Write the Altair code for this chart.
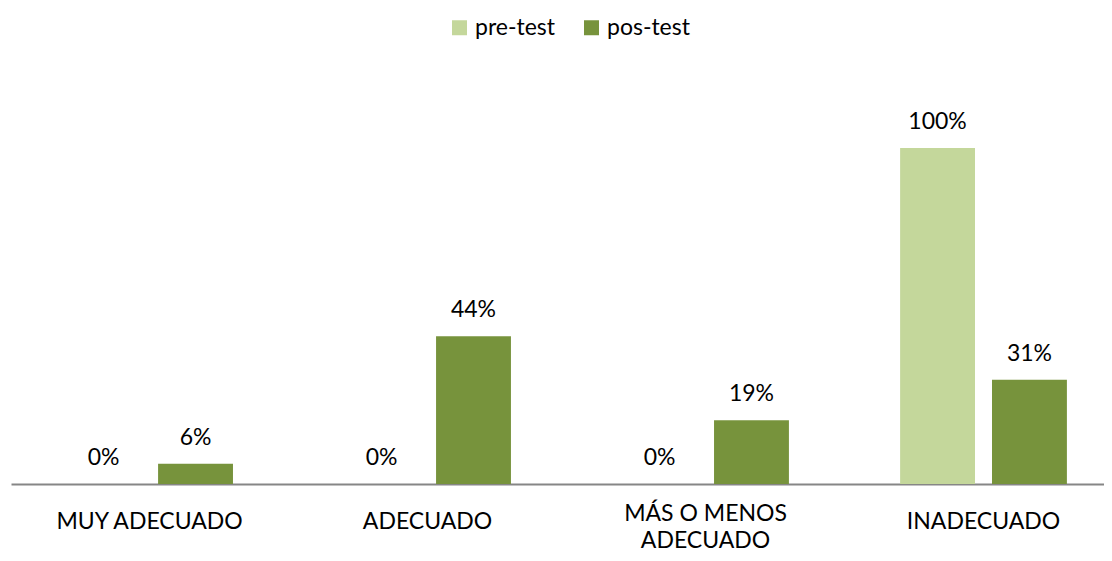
import altair as alt
import pandas as pd

categories = ["MUY ADECUADO", "ADECUADO", "MÁS O MENOS ADECUADO", "INADECUADO"]
series = ["pre-test", "pos-test"]
pre_test = [0.00, 0.00, 0.00, 1.00]
pos_test = [0.06, 0.44, 0.19, 0.31]
colors = ["#C4D79B", "#77933C"]

rows = []
for i, c in enumerate(categories):
    rows.append({"cat": c, "serie": series[0], "value": pre_test[i]})
    rows.append({"cat": c, "serie": series[1], "value": pos_test[i]})
df = pd.DataFrame(rows)

FONT = "Lato"
FS = 23

x_enc = alt.X(
    "cat:N",
    sort=categories,
    title=None,
    scale=alt.Scale(paddingInner=0.4, paddingOuter=0.166, align=0.598),
    axis=alt.Axis(
        labelAngle=0,
        ticks=False,
        tickSize=0,
        domainColor="#868686",
        domainWidth=2,
        labelFont=FONT,
        labelFontSize=FS,
        labelColor="#000000",
        labelBaseline="top",
        labelLimit=500,
        labelLineHeight=27,
        labelPadding={"condition": {"test": "datum.value == 'MÁS O MENOS ADECUADO'", "value": 18}, "value": 26},
        labelExpr="datum.value == 'MÁS O MENOS ADECUADO' ? ['MÁS O MENOS', 'ADECUADO'] : datum.label",
    ),
)
xoff = alt.XOffset("serie:N", sort=series, scale=alt.Scale(paddingInner=0.185, paddingOuter=0))
y_enc = alt.Y("value:Q", scale=alt.Scale(domain=[0, 1]), axis=None)

color_enc = alt.Color(
    "serie:N",
    sort=series,
    scale=alt.Scale(domain=series, range=colors),
    legend=alt.Legend(
        title=None,
        orient="none",
        direction="horizontal",
        legendX=437,
        legendY=-132,
        padding=0,
        symbolType="square",
        symbolSize=225,
        symbolStrokeWidth=0,
        symbolOpacity=1,
        labelFont=FONT,
        labelFontSize=FS,
        labelColor="#000000",
        labelOffset=4,
        columnPadding=24,
        labelLimit=300,
    ),
)

bars = alt.Chart(df).mark_bar().encode(x=x_enc, xOffset=xoff, y=y_enc, color=color_enc)
labels = alt.Chart(df).mark_text(
    baseline="alphabetic", dy=-19, font=FONT, fontSize=FS, color="#000000"
).encode(x=x_enc, xOffset=xoff, y=y_enc, text=alt.Text("value:Q", format=".0%"))

chart = (
    alt.layer(bars, labels)
    .properties(
        width=1093,
        height=336,
        autosize=alt.AutoSizeParams(type="none"),
        padding={"left": 3, "top": 140, "right": 0, "bottom": 65},
    )
    .configure(background="#ffffff")
    .configure_view(strokeWidth=0, stroke="transparent")
)

chart.save("out.html", embed_options={"renderer": "svg", "actions": False})
